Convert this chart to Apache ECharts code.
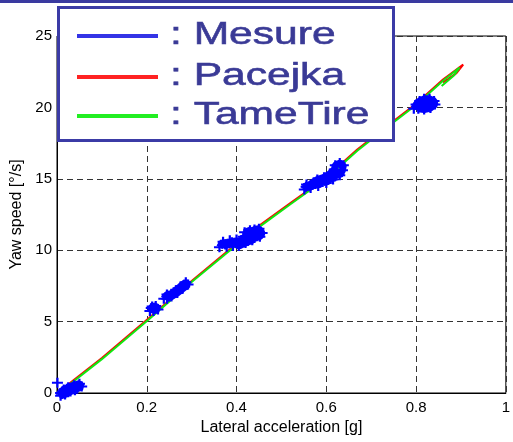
<!DOCTYPE html>
<html>
<head>
<meta charset="utf-8">
<script src="https://cdn.jsdelivr.net/npm/echarts/dist/echarts.min.js"></script>
<style>
  html, body { margin: 0; padding: 0; background: #fff; }
  #chart { width: 513px; height: 442px; }
</style>
</head>
<body>
<div id="chart"></div>
<script>
// Axis ticks
const xTicks = [0, 0.2, 0.4, 0.6, 0.8, 1];
const yTicks = [0, 5, 10, 15, 20, 25];
const seriesNames = ['Mesure', 'Pacejka', 'TameTire'];

// Measured yaw speed vs lateral acceleration, one array per steady-state run
const mesureStart = [[0.008,0.0],[0.015,0.25],[0.025,0.4],[0.038,0.55],[0.05,0.65],[0.055,0.45],[0.045,0.3],[0.03,0.1],[0.018,-0.1],[0.008,-0.2],[0.012,0.1],[0.022,0.3],[0.035,0.35],[0.048,0.5],[0.04,0.2],[0.025,0.05],[0.01,-0.05]];
const mesureLone = [[0.001,0.72]];
const mesureRun1 = [[0.207,5.75],[0.212,6.05],[0.22,6.1],[0.225,5.85],[0.215,5.75],[0.21,5.95]];
const mesureRun2 = [[0.238,6.6],[0.245,6.9],[0.255,6.95],[0.265,7.2],[0.275,7.45],[0.287,7.75],[0.292,7.6],[0.28,7.3],[0.268,7.0],[0.255,6.75],[0.245,6.6],[0.26,7.05],[0.272,7.3],[0.283,7.55]];
const mesureRun3 = [[0.362,10.2],[0.37,10.6],[0.378,10.25],[0.385,10.7],[0.392,10.3],[0.40,10.75],[0.408,10.45],[0.415,10.95],[0.425,10.65],[0.432,11.2],[0.44,11.45],[0.45,11.5],[0.457,11.2],[0.452,10.95],[0.44,10.85],[0.428,11.05],[0.418,11.25],[0.43,11.4],[0.445,11.2],[0.435,10.7],[0.42,10.5],[0.405,10.3],[0.39,10.55],[0.375,10.4]];
const mesureRun4 = [[0.551,14.25],[0.556,14.6],[0.565,14.35],[0.572,14.75],[0.582,14.5],[0.59,14.9],[0.6,14.7],[0.607,15.1],[0.615,14.95],[0.622,15.35],[0.63,15.25],[0.636,15.6],[0.638,15.95],[0.63,16.1],[0.62,15.95],[0.618,15.65],[0.608,15.35],[0.595,15.1],[0.58,14.95],[0.565,14.6],[0.555,14.45]];
const mesureRun5 = [[0.795,19.9],[0.8,20.2],[0.808,20.45],[0.818,20.6],[0.83,20.6],[0.84,20.45],[0.842,20.2],[0.832,19.95],[0.818,19.85],[0.805,19.9],[0.812,20.2],[0.825,20.35],[0.835,20.25],[0.82,20.1]];

// Simulated responses
const pacejka = [[0.007,0.25],[0.021,0.5],[0.1,2.45],[0.205,5.25],[0.3,7.85],[0.377,9.85],[0.45,11.7],[0.52,13.3],[0.598,15.05],[0.669,17.05],[0.742,18.85],[0.80,20.25],[0.86,21.95],[0.905,23.0],[0.89,22.4],[0.872,22.0],[0.86,21.75]];
const tameTire = [[0.007,0.17],[0.021,0.42],[0.1,2.37],[0.205,5.17],[0.3,7.77],[0.377,9.77],[0.45,11.62],[0.52,13.22],[0.598,14.97],[0.669,16.97],[0.742,18.77],[0.80,20.17],[0.86,21.87],[0.897,22.8],[0.885,22.25],[0.87,21.85],[0.857,21.5]];

const colors = ['#0000ff', '#ff0000', '#10e810'];
const legendColors = ['#3434e6', '#ff2222', '#22ee22'];
const plusSymbol = 'path://M4,0H6V4H10V6H6V10H4V6H0V4H4Z';

const mesureRuns = [mesureStart, mesureLone, mesureRun1, mesureRun2, mesureRun3, mesureRun4, mesureRun5];

const series = [
  {
    name: seriesNames[1], type: 'line', data: pacejka, showSymbol: false,
    lineStyle: { color: colors[1], width: 2 }, z: 2
  },
  {
    name: seriesNames[2], type: 'line', data: tameTire, showSymbol: false,
    lineStyle: { color: colors[2], width: 2 }, z: 3
  }
];
mesureRuns.forEach(run => {
  series.push({
    name: seriesNames[0], type: 'line', data: run,
    symbol: plusSymbol, symbolSize: [11, 10], showSymbol: true,
    itemStyle: { color: colors[0] },
    lineStyle: { color: colors[0], width: 7 },
    clip: false, z: 4
  });
});

// Legend box drawn as graphic elements
const legendGraphics = [
  { type: 'rect', shape: { x: 0, y: 0, width: 513, height: 3 }, style: { fill: '#3a3aa0' }, z: 100 },
  { type: 'rect', shape: { x: 58.5, y: 7.5, width: 335, height: 133 },
    style: { fill: '#ffffff', stroke: '#3b3ba6', lineWidth: 3 }, z: 100 }
];
const legendRows = [36, 77, 116];
seriesNames.forEach((name, i) => {
  legendGraphics.push({
    type: 'line', shape: { x1: 77, y1: legendRows[i], x2: 158, y2: legendRows[i] },
    style: { stroke: legendColors[i], lineWidth: 4 }, z: 101
  });
  legendGraphics.push({
    type: 'text', x: 170, y: legendRows[i] - 1, scaleX: 1.33,
    style: {
      text: ': ' + name, fontSize: 32, fontFamily: '"Liberation Sans", Arial, sans-serif',
      fill: '#3a3a96', stroke: '#3a3a96', lineWidth: 0.6,
      verticalAlign: 'middle', align: 'left'
    }, z: 101
  });
});

const chart = echarts.init(document.getElementById('chart'), null, { renderer: 'canvas' });
chart.setOption({
  animation: false,
  backgroundColor: '#ffffff',
  textStyle: { fontFamily: '"Liberation Sans", Arial, sans-serif' },
  grid: { left: 57, right: 3, top: 36, bottom: 49, show: true, borderColor: '#000', borderWidth: 1 },
  xAxis: {
    type: 'value', min: xTicks[0], max: xTicks[xTicks.length - 1], interval: xTicks[1] - xTicks[0],
    name: 'Lateral acceleration [g]', nameLocation: 'middle', nameGap: 26,
    nameTextStyle: { color: '#000', fontSize: 16 },
    axisLine: { lineStyle: { color: '#000', width: 1 } },
    axisTick: { show: false },
    axisLabel: { color: '#000', fontSize: 15, margin: 7 },
    splitLine: { show: true, lineStyle: { color: '#333', type: [6, 4], width: 1 } }
  },
  yAxis: {
    type: 'value', min: yTicks[0], max: yTicks[yTicks.length - 1], interval: yTicks[1] - yTicks[0],
    name: 'Yaw speed [°/s]', nameLocation: 'middle', nameGap: 27,
    nameTextStyle: { color: '#000', fontSize: 16 },
    axisLine: { lineStyle: { color: '#000', width: 1 } },
    axisTick: { show: false },
    axisLabel: { color: '#000', fontSize: 15, margin: 5 },
    splitLine: { show: true, lineStyle: { color: '#333', type: [6, 4], width: 1 } }
  },
  series: series,
  graphic: legendGraphics
});
</script>
</body>
</html>
